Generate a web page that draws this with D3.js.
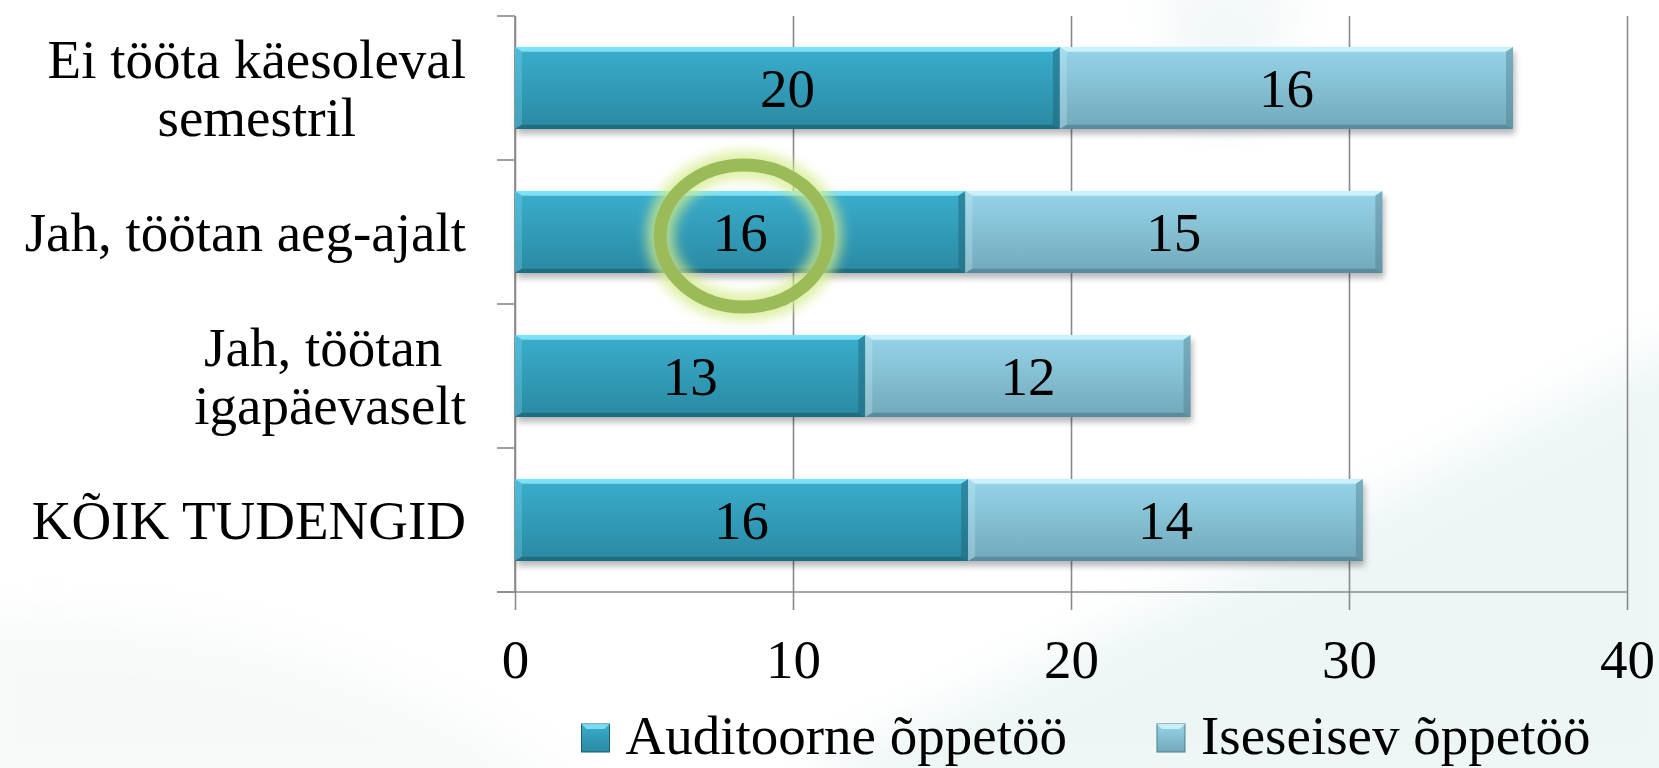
<!DOCTYPE html>
<html>
<head>
<meta charset="utf-8">
<script src="https://cdn.jsdelivr.net/npm/d3@7"></script>
<style>
  html, body { margin: 0; padding: 0; background: #fff; }
  svg { display: block; }
  text { font-family: "Liberation Serif", "Times New Roman", serif; fill: #000; }
</style>
</head>
<body>
<div id="chart"></div>
<script>
// Chart data
const categories = ["Ei tööta käesoleval semestril", "Jah, töötan aeg-ajalt", "Jah, töötan igapäevaselt", "KÕIK TUDENGID"];
const categoryLines = [["Ei tööta käesoleval", "semestril"], ["Jah, töötan aeg-ajalt"], ["Jah, töötan ", "igapäevaselt"], ["KÕIK TUDENGID"]];
const seriesNames = ["Auditoorne õppetöö", "Iseseisev õppetöö"];
const auditoorne = [19.6, 16.2, 12.6, 16.3];
const iseseisev = [16.3, 15.0, 11.7, 14.2];
const xTicks = [0, 10, 20, 30, 40];
const highlighted = { category: "Jah, töötan aeg-ajalt", series: 0 };

const W = 1659, H = 768;
const margin = { top: 16, right: 32, bottom: 176, left: 515 };
const plotW = W - margin.left - margin.right;
const plotH = H - margin.top - margin.bottom;
const fontSize = 55;

const svg = d3.select("#chart").append("svg")
    .attr("width", W)
    .attr("height", H);

const defs = svg.append("defs");

// gradients for the two series
const palettes = [
    { id: "gradA", top: "#3aaecd", bottom: "#2a89a2", light: "#8be9fb", dark: "#1c5f70" },
    { id: "gradB", top: "#97d4e9", bottom: "#72a9bb", light: "#d6f6fd", dark: "#4f7f8f" }
];
palettes.forEach(p => {
    const g = defs.append("linearGradient").attr("id", p.id)
        .attr("x1", 0).attr("y1", 0).attr("x2", 0).attr("y2", 1);
    g.append("stop").attr("offset", "0%").attr("stop-color", p.top);
    g.append("stop").attr("offset", "100%").attr("stop-color", p.bottom);
});

defs.append("filter").attr("id", "shadow")
    .attr("x", "-5%").attr("y", "-20%").attr("width", "110%").attr("height", "150%")
    .append("feGaussianBlur").attr("stdDeviation", 3);

defs.append("filter").attr("id", "bgblur")
    .attr("x", "-20%").attr("y", "-20%").attr("width", "140%").attr("height", "140%")
    .append("feGaussianBlur").attr("stdDeviation", 25);

defs.append("filter").attr("id", "glow")
    .attr("x", "-30%").attr("y", "-30%").attr("width", "160%").attr("height", "160%")
    .append("feGaussianBlur").attr("stdDeviation", 6);

// soft background swooshes
const bg = svg.append("g");
bg.append("rect").attr("width", W).attr("height", H).attr("fill", "#ffffff");
bg.append("path")
    .attr("d", "M820,768 C1100,640 1350,520 1700,330 L1700,800 L820,800 Z")
    .attr("fill", "#dcecec").attr("opacity", 0.5).attr("filter", "url(#bgblur)");
bg.append("path")
    .attr("d", "M1160,-20 L1300,-20 L1260,120 L1190,120 Z")
    .attr("fill", "#e6f0f0").attr("opacity", 0.5).attr("filter", "url(#bgblur)");
bg.append("path")
    .attr("d", "M-40,620 C200,600 400,660 600,800 L-40,800 Z")
    .attr("fill", "#f0f4f4").attr("opacity", 0.5).attr("filter", "url(#bgblur)");

const g = svg.append("g").attr("transform", `translate(${margin.left},${margin.top})`);

// Scales
const x = d3.scaleLinear().domain([0, 40]).range([0, plotW]);
const y = d3.scaleBand().domain(categories).range([0, plotH]).paddingInner(0.43).paddingOuter(0.215);

// X axis with gridlines
const xAxis = g.append("g")
    .attr("transform", `translate(0,${plotH})`)
    .call(d3.axisBottom(x).tickValues(xTicks).tickSize(18).tickPadding(29));
xAxis.select(".domain").remove();
xAxis.selectAll(".tick line")
    .attr("y1", -plotH)
    .attr("stroke", "#8a8a8a").attr("stroke-width", 1.6);
xAxis.selectAll(".tick text")
    .attr("font-size", fontSize)
    .attr("font-family", "Liberation Serif")
    .attr("fill", "#000");

// axis lines
g.append("line")
    .attr("x1", -18).attr("x2", plotW).attr("y1", plotH).attr("y2", plotH)
    .attr("stroke", "#8a8a8a").attr("stroke-width", 1.6);
g.append("line")
    .attr("x1", 0).attr("x2", 0).attr("y1", 0).attr("y2", plotH)
    .attr("stroke", "#8a8a8a").attr("stroke-width", 1.6);

// category boundary ticks
const step = y.step();
const boundaries = d3.range(categories.length + 1).map(i => i * step);
g.selectAll(".ctick").data(boundaries).join("line")
    .attr("x1", -18).attr("x2", 0)
    .attr("y1", d => d).attr("y2", d => d)
    .attr("stroke", "#8a8a8a").attr("stroke-width", 1.6);

// Stack the data
const rows = categories.map((c, i) => ({ category: c, a: auditoorne[i], b: iseseisev[i] }));
const stack = d3.stack().keys(["a", "b"])(rows);

// shadows under each bar
g.selectAll(".shadow").data(rows).join("rect")
    .attr("x", 2)
    .attr("y", d => y(d.category) + 5)
    .attr("width", d => x(d.a + d.b))
    .attr("height", y.bandwidth())
    .attr("fill", "#000").attr("opacity", 0.28)
    .attr("filter", "url(#shadow)");

const bev = 7;
stack.forEach((layer, si) => {
    const p = palettes[si];
    const segs = layer.map(d => ({
        x0: x(d[0]), x1: x(d[1]), y0: y(d.data.category), h: y.bandwidth(),
        v: d[1] - d[0], cat: d.data.category
    }));
    const sg = g.append("g");
    sg.selectAll("rect").data(segs).join("rect")
        .attr("x", d => d.x0).attr("y", d => d.y0)
        .attr("width", d => d.x1 - d.x0).attr("height", d => d.h)
        .attr("fill", `url(#${p.id})`);
    // bevel edges
    const bevels = [
        { f: d => [[d.x0, d.y0], [d.x1, d.y0], [d.x1 - bev, d.y0 + bev * 0.7], [d.x0 + bev, d.y0 + bev * 0.7]], c: p.light, o: 0.85 },
        { f: d => [[d.x0, d.y0], [d.x0 + bev, d.y0 + bev * 0.7], [d.x0 + bev, d.y0 + d.h - bev * 0.6], [d.x0, d.y0 + d.h]], c: p.light, o: 0.25 },
        { f: d => [[d.x1, d.y0], [d.x1 - bev, d.y0 + bev * 0.7], [d.x1 - bev, d.y0 + d.h - bev * 0.6], [d.x1, d.y0 + d.h]], c: p.dark, o: 0.45 },
        { f: d => [[d.x0, d.y0 + d.h], [d.x1, d.y0 + d.h], [d.x1 - bev, d.y0 + d.h - bev * 0.6], [d.x0 + bev, d.y0 + d.h - bev * 0.6]], c: p.dark, o: 0.7 }
    ];
    bevels.forEach(b => {
        sg.selectAll(null).data(segs).join("polygon")
            .attr("points", d => b.f(d).map(pt => pt.join(",")).join(" "))
            .attr("fill", b.c).attr("opacity", b.o);
    });
    // value labels
    g.selectAll(null).data(segs).join("text")
        .attr("x", d => (d.x0 + d.x1) / 2)
        .attr("y", d => d.y0 + d.h / 2)
        .attr("dy", "0.35em")
        .attr("text-anchor", "middle")
        .attr("font-size", fontSize)
        .text(d => Math.round(d.v));
});

// Category labels (right-aligned block, lines centred inside the block)
const labelRight = -49;
categories.forEach((c, i) => {
    const lines = categoryLines[i];
    const cy = y(c) + y.bandwidth() / 2;
    const tg = g.append("g");
    const texts = lines.map((ln, j) => tg.append("text")
        .attr("font-size", fontSize)
        .attr("y", cy + (j - (lines.length - 1) / 2) * 58)
        .attr("dy", "0.35em")
        .attr("text-anchor", "middle")
        .attr("xml:space", "preserve")
        .text(ln));
    const widths = texts.map(t => t.node().getComputedTextLength());
    const blockW = d3.max(widths);
    texts.forEach(t => t.attr("x", labelRight - blockW / 2));
});

// Highlight ring around the selected value label
const hi = stack[highlighted.series].find(d => d.data.category === highlighted.category);
const hx = (x(hi[0]) + x(hi[1])) / 2 + 4;
const hy = y(highlighted.category) + y.bandwidth() / 2 + 4;
g.append("ellipse")
    .attr("cx", hx).attr("cy", hy).attr("rx", 84).attr("ry", 71)
    .attr("fill", "none").attr("stroke", "#d4ec8a").attr("stroke-width", 28)
    .attr("opacity", 0.75).attr("filter", "url(#glow)");
g.append("ellipse")
    .attr("cx", hx).attr("cy", hy).attr("rx", 84).attr("ry", 71)
    .attr("fill", "none").attr("stroke", "#9bbb59").attr("stroke-width", 13);

// Legend
const legend = svg.append("g");
const lgY = 754;
const items = legend.selectAll("g").data(seriesNames).join("g");
items.append("rect")
    .attr("width", 28).attr("height", 28)
    .attr("y", lgY - 30)
    .attr("fill", (d, i) => `url(#${palettes[i].id})`)
    .attr("stroke", (d, i) => palettes[i].dark).attr("stroke-width", 1);
items.append("polygon")
    .attr("points", `0,${lgY - 30} 28,${lgY - 30} 23,${lgY - 25} 5,${lgY - 25}`)
    .attr("fill", (d, i) => palettes[i].light).attr("opacity", 0.8);
items.append("text")
    .attr("x", 44).attr("y", lgY)
    .attr("font-size", fontSize)
    .text(d => d);
let lx = 0;
const offsets = [];
items.each(function () {
    offsets.push(lx);
    lx += this.getBBox().width + 90;
});
const legendW = lx - 90;
const legendStart = 1086 - legendW / 2;
items.attr("transform", (d, i) => `translate(${legendStart + offsets[i]},0)`);
</script>
</body>
</html>
